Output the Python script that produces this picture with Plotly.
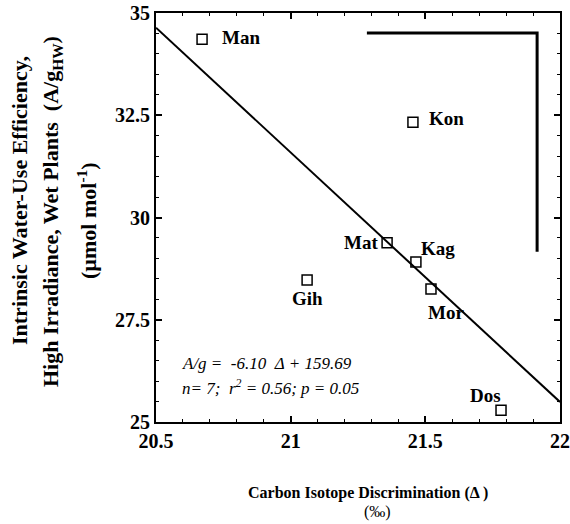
import plotly.graph_objects as go

# ---- data ----
genotypes = ["Man", "Kon", "Mat", "Kag", "Gih", "Mor", "Dos"]
delta = [20.671, 21.454, 21.358, 21.465, 21.061, 21.521, 21.781]
wue = [34.36, 32.33, 29.38, 28.91, 28.47, 28.25, 25.29]

slope = -6.10
intercept = 159.69
fit_x = [20.5, 22.0]
fit_y = [slope * v + intercept for v in fit_x]

x_ticks = [20.5, 21, 21.5, 22]
x_ticklabels = ["20.5", "21", "21.5", "22"]
y_ticks = [25, 27.5, 30, 32.5, 35]
y_ticklabels = ["25", "27.5", "30", "32.5", "35"]

# bracket artifact in upper right (data coords)
bracket_x = [21.283, 21.915, 21.915]
bracket_y = [34.51, 34.51, 29.16]

# label offsets (pixels) and anchors
label_style = {
    "Man": (18, 2, "left"),
    "Kon": (14, 4, "left"),
    "Mat": (-7, 0, "right"),
    "Kag": (3, 14, "left"),
    "Gih": (0, -18, "center"),
    "Mor": (-5, -23, "left"),
    "Dos": (-16, 15, "center"),
}

SERIF = "Liberation Serif"

fig = go.Figure()

fig.add_trace(go.Scatter(
    x=fit_x, y=fit_y, mode="lines",
    line=dict(color="black", width=2), hoverinfo="skip", showlegend=False))

fig.add_trace(go.Scatter(
    x=bracket_x, y=bracket_y, mode="lines",
    line=dict(color="black", width=3), hoverinfo="skip", showlegend=False))

fig.add_trace(go.Scatter(
    x=delta, y=wue, mode="markers",
    marker=dict(symbol="square-open", size=10, color="black", line=dict(width=1.5)),
    showlegend=False))

for g, xv, yv in zip(genotypes, delta, wue):
    dx, dy, anc = label_style[g]
    fig.add_annotation(x=xv, y=yv, text="<b>%s</b>" % g, showarrow=False,
                       xshift=dx, yshift=dy, xanchor=anc, yanchor="middle",
                       font=dict(family=SERIF, size=19, color="black"))

# regression text
fig.add_annotation(xref="paper", yref="paper", x=(180 - 156) / 404, y=(422 - 363) / 409,
                   xanchor="left", yanchor="middle", showarrow=False,
                   text="<i>A/g =  -6.10  Δ + 159.69</i>",
                   font=dict(family=SERIF, size=17, color="black"))
fig.add_annotation(xref="paper", yref="paper", x=(180 - 156) / 404, y=(422 - 387) / 409,
                   xanchor="left", yanchor="middle", showarrow=False,
                   text="<i>n= 7;  r<sup>2</sup> = 0.56; p = 0.05</i>",
                   font=dict(family=SERIF, size=17, color="black"))

# y-axis title lines
ytitle_lines = [
    ("<b>Intrinsic Water-Use Efficiency,</b>", 19, 201),
    ("<b>High Irradiance, Wet Plants  (A/g<sub>HW</sub>)</b>", 52, 212),
    ("<b>(µmol mol<sup>-1</sup>)</b>", 87, 221),
]
for txt, px, py in ytitle_lines:
    fig.add_annotation(xref="paper", yref="paper",
                       x=(px - 156) / 404, y=(422 - py) / 409,
                       xanchor="center", yanchor="middle", showarrow=False,
                       textangle=-90, text=txt,
                       font=dict(family=SERIF, size=22, color="black"))

# x-axis title
fig.add_annotation(xref="paper", yref="paper", x=(368 - 156) / 404, y=(422 - 493) / 409,
                   xanchor="center", yanchor="middle", showarrow=False,
                   text="<b>Carbon Isotope Discrimination (Δ )</b>",
                   font=dict(family=SERIF, size=16, color="black"))
fig.add_annotation(xref="paper", yref="paper", x=(377 - 156) / 404, y=(422 - 512) / 409,
                   xanchor="center", yanchor="middle", showarrow=False,
                   text="(‰)",
                   font=dict(family=SERIF, size=16, color="black"))

axis_common = dict(
    showgrid=False, zeroline=False, showline=True, linecolor="black", linewidth=2,
    mirror="ticks", ticks="inside", ticklen=6, tickwidth=1.5, tickcolor="black",
    tickfont=dict(family=SERIF, size=20, color="black"), automargin=False,
)

fig.update_xaxes(range=[20.5, 22], tickmode="array", tickvals=x_ticks,
                 ticktext=["<b>%s</b>" % t for t in x_ticklabels],
                 minor=dict(dtick=0.1, ticks="inside", ticklen=3, tickcolor="black", tickwidth=1.2),
                 **axis_common)
fig.update_yaxes(range=[25, 35], tickmode="array", tickvals=y_ticks,
                 ticktext=["<b>%s</b>" % t for t in y_ticklabels],
                 minor=dict(dtick=0.5, ticks="inside", ticklen=3, tickcolor="black", tickwidth=1.2),
                 **axis_common)

fig.update_layout(
    width=570, height=524,
    margin=dict(l=156, r=10, t=13, b=102, autoexpand=False),
    paper_bgcolor="white", plot_bgcolor="white",
    showlegend=False,
)

fig.write_html("out.html", config={"displayModeBar": False},
               post_script="document.body.style.margin='0';document.body.style.overflow='hidden';")
